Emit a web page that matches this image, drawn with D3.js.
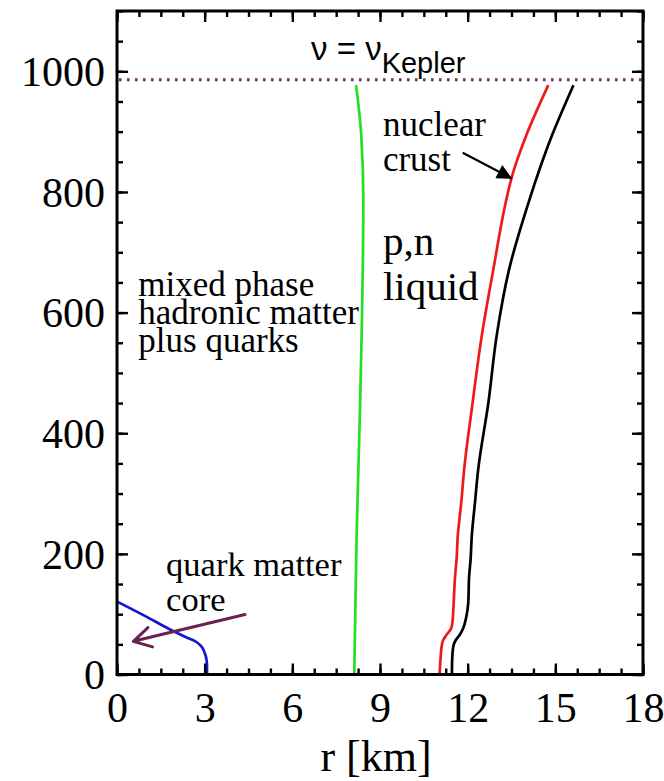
<!DOCTYPE html>
<html>
<head>
<meta charset="utf-8">
<script src="https://cdn.jsdelivr.net/npm/d3@7"></script>
<style>
  html, body { margin: 0; padding: 0; background: #fff; }
  svg { display: block; }
  .serif { font-family: "Liberation Serif", "Times New Roman", serif; fill: #000; }
  .sans { font-family: "Liberation Sans", Arial, sans-serif; fill: #000; }
</style>
</head>
<body>
<svg id="chart" width="664" height="781"></svg>
<script>
// Equatorial radius r [km] of each phase boundary versus rotation frequency ν [Hz]

// axis ticks
const xMajorTicks = [0, 3, 6, 9, 12, 15, 18];
const yMajorTicks = [0, 200, 400, 600, 800, 1000];
const xDomain = [0, 18];
const yDomain = [0, 1100];

// Kepler frequency (dotted line)
const nuKepler = 986;

// quark matter core boundary
const coreNu = [0, 12, 22, 36, 47, 55, 61, 75, 96, 121];
const coreR  = [3.08, 3.08, 3.07, 3.0, 2.88, 2.68, 2.4, 1.8, 1.0, 0.0];

// mixed phase / hadronic boundary
const mixedNu = [0, 120, 230, 340, 450, 560, 670, 780, 893, 977];
const mixedR  = [8.12, 8.16, 8.20, 8.26, 8.32, 8.37, 8.41, 8.43, 8.36, 8.18];

// p,n liquid / nuclear crust boundary
const liquidNu = [0, 25, 47, 58, 66, 77, 92, 108, 163, 191, 229, 285, 340, 451, 561, 672, 782, 823, 893, 977];
const liquidR  = [11.04, 11.07, 11.11, 11.17, 11.28, 11.44, 11.49, 11.51, 11.57, 11.62, 11.66, 11.78, 11.88, 12.17, 12.48, 12.88, 13.30, 13.50, 14.00, 14.76];

// stellar surface
const surfaceNu = [0, 25, 47, 56, 65, 77, 95, 119, 163, 191, 229, 285, 340, 451, 561, 672, 782, 893, 977];
const surfaceR  = [11.46, 11.47, 11.51, 11.58, 11.72, 11.85, 11.95, 12.02, 12.05, 12.10, 12.14, 12.25, 12.36, 12.71, 12.99, 13.42, 14.08, 14.88, 15.62];

const svg = d3.select("#chart");
const frame = { left: 117, right: 643, top: 11, bottom: 674.5 };

const x = d3.scaleLinear().domain(xDomain).range([frame.left, frame.right]);
const y = d3.scaleLinear().domain(yDomain).range([frame.bottom, frame.top]);

const xMinor = d3.range(xDomain[0], xDomain[1] + 0.001, 0.75);
const yMinor = d3.range(yDomain[0], yDomain[1] + 0.001, 50);

// ---------- curves ----------
const line = d3.line()
  .x(d => x(d[1]))
  .y(d => y(d[0]))
  .curve(d3.curveMonotoneY);

const zipped = (nu, r) => nu.map((v, i) => [v, r[i]]);

const plot = svg.append("g");
const series = [
  { nu: coreNu, r: coreR, color: "#1414d2" },
  { nu: mixedNu, r: mixedR, color: "#22e022" },
  { nu: liquidNu, r: liquidR, color: "#ee1a1a" },
  { nu: surfaceNu, r: surfaceR, color: "#000000" }
];
plot.selectAll("path.curve")
  .data(series)
  .join("path")
  .attr("class", "curve")
  .attr("d", s => line(zipped(s.nu, s.r)))
  .attr("fill", "none")
  .attr("stroke", s => s.color)
  .attr("stroke-width", 2.7)
  .attr("stroke-linejoin", "round");

// Kepler limit
plot.append("line")
  .attr("x1", x(0) + 2).attr("x2", x(18))
  .attr("y1", y(nuKepler)).attr("y2", y(nuKepler))
  .attr("stroke", "#74305f")
  .attr("stroke-width", 2.8)
  .attr("stroke-dasharray", "2.6 5.4");

// ---------- axes and frame ----------
function styleAxis(g) {
  g.select(".domain").remove();
  g.selectAll(".tick line").attr("stroke", "#000").attr("stroke-width", 2.4);
}

const noLabel = () => "";
// bottom
svg.append("g").attr("transform", `translate(0,${frame.bottom})`)
  .call(d3.axisBottom(x).tickValues(xMinor).tickSize(-6).tickFormat(noLabel)).call(styleAxis);
svg.append("g").attr("transform", `translate(0,${frame.bottom})`)
  .call(d3.axisBottom(x).tickValues(xMajorTicks).tickSize(-11).tickFormat(d3.format("d")))
  .call(styleAxis)
  .call(g => g.selectAll("text").attr("class", "serif").style("font-size", "42px")
    .attr("dy", "0.71em").attr("y", 18));
// top
svg.append("g").attr("transform", `translate(0,${frame.top})`)
  .call(d3.axisTop(x).tickValues(xMinor).tickSize(-6).tickFormat(noLabel)).call(styleAxis);
svg.append("g").attr("transform", `translate(0,${frame.top})`)
  .call(d3.axisTop(x).tickValues(xMajorTicks).tickSize(-11).tickFormat(noLabel)).call(styleAxis);
// left
svg.append("g").attr("transform", `translate(${frame.left},0)`)
  .call(d3.axisLeft(y).tickValues(yMinor).tickSize(-6).tickFormat(noLabel)).call(styleAxis);
svg.append("g").attr("transform", `translate(${frame.left},0)`)
  .call(d3.axisLeft(y).tickValues(yMajorTicks).tickSize(-11).tickFormat(d3.format("d")))
  .call(styleAxis)
  .call(g => g.selectAll("text").attr("class", "serif").style("font-size", "42px")
    .attr("x", -12).attr("dy", "0.34em"));
// right
svg.append("g").attr("transform", `translate(${frame.right},0)`)
  .call(d3.axisRight(y).tickValues(yMinor).tickSize(-6).tickFormat(noLabel)).call(styleAxis);
svg.append("g").attr("transform", `translate(${frame.right},0)`)
  .call(d3.axisRight(y).tickValues(yMajorTicks).tickSize(-11).tickFormat(noLabel)).call(styleAxis);

svg.append("rect")
  .attr("x", frame.left).attr("y", frame.top)
  .attr("width", frame.right - frame.left).attr("height", frame.bottom - frame.top)
  .attr("fill", "none").attr("stroke", "#000").attr("stroke-width", 3);

// axis title
svg.append("text").attr("class", "serif")
  .attr("x", 376).attr("y", 771)
  .attr("text-anchor", "middle")
  .style("font-size", "44px")
  .text("r [km]");

// ---------- annotations ----------
const kep = svg.append("text").attr("class", "sans")
  .attr("x", x(6.64)).attr("y", y(1019))
  .style("font-size", "33px");
kep.append("tspan").text("ν = ν");
kep.append("tspan").attr("dy", 13).style("font-size", "29px").text("Kepler");

function multiline(lines, r0, nu0, size, step) {
  const t = svg.append("text").attr("class", "serif")
    .attr("x", x(r0)).attr("y", y(nu0))
    .style("font-size", size + "px");
  lines.forEach((s, i) => t.append("tspan").attr("x", x(r0)).attr("dy", i ? step : 0).text(s));
}
multiline(["nuclear", "crust"], 9.1, 892, 35, 34.7);
multiline(["p,n", "liquid"], 9.1, 696, 41, 45);
multiline(["mixed phase", "hadronic matter", "plus quarks"], 0.73, 627, 35, 27.8);
multiline(["quark matter", "core"], 1.68, 163, 34.5, 35);

// arrow pointing at the crust boundary (filled head)
const defs = svg.append("defs");
defs.append("marker")
  .attr("id", "headFilled")
  .attr("viewBox", "0 0 10 10").attr("refX", 10).attr("refY", 5)
  .attr("markerWidth", 19).attr("markerHeight", 15)
  .attr("markerUnits", "userSpaceOnUse")
  .attr("orient", "auto")
  .append("path").attr("d", "M0,0 L10,5 L0,10 Z").attr("fill", "#000");

svg.append("line")
  .attr("x1", x(11.83)).attr("y1", y(865))
  .attr("x2", x(13.52)).attr("y2", y(822))
  .attr("stroke", "#000").attr("stroke-width", 2.2)
  .attr("marker-end", "url(#headFilled)");

// arrow pointing at the quark core (open head)
const a0 = [x(4.38), y(99.5)], a1 = [x(0.56), y(55)];
const ang = Math.atan2(a1[1] - a0[1], a1[0] - a0[0]);
const hl = 20, hw = 0.52;
const purple = "#6b2150";
svg.append("path")
  .attr("d", `M${a0[0]},${a0[1]} L${a1[0]},${a1[1]}
              M${a1[0] - hl * Math.cos(ang - hw)},${a1[1] - hl * Math.sin(ang - hw)}
              L${a1[0]},${a1[1]}
              L${a1[0] - hl * Math.cos(ang + hw)},${a1[1] - hl * Math.sin(ang + hw)}`)
  .attr("fill", "none").attr("stroke", purple)
  .attr("stroke-width", 3).attr("stroke-linecap", "round").attr("stroke-linejoin", "round");
</script>
</body>
</html>
